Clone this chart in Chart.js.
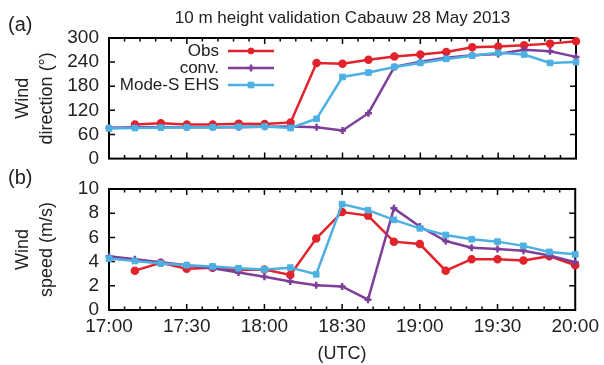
<!DOCTYPE html>
<html lang="en">
<head>
    <meta charset="UTF-8">
    <title>10 m height validation Cabauw 28 May 2013</title>
    <script src="https://cdn.jsdelivr.net/npm/chart.js"></script>
    <style>
        html, body { margin: 0; padding: 0; background: #fff; }
        #wrap { position: relative; width: 604px; height: 365px; }
        #wrap canvas { position: absolute; left: 0; }
        #dirChart { top: 0; }
        #spdChart { top: 165px; }
    </style>
</head>
<body>
<div id="wrap">
    <canvas id="dirChart" width="604" height="180"></canvas>
    <canvas id="spdChart" width="604" height="200"></canvas>
</div>
<script>
    // minutes after 17:00 UTC, one sample every 10 minutes
    const minutes = [0, 10, 20, 30, 40, 50, 60, 70, 80, 90, 100, 110, 120, 130, 140, 150, 160, 170, 180];

    // wind direction (deg)
    const obsDir = [null, 85, 88, 85, 85, 87, 86, 90, 238, 236, 246, 254, 259, 265, 277, 279, 282, 286, 292];
    const convDir = [77, 78, 78, 78, 78, 78, 79, 80, 78, 70, 113, 228, 241, 251, 257, 260, 271, 267, 253];
    const modeSDir = [75, 76, 77, 78, 78, 79, 80, 76, 99, 203, 214, 228, 238, 248, 256, 263, 259, 238, 240];

    // wind speed (m/s)
    const obsSpd = [null, 3.25, 3.9, 3.4, 3.5, 3.3, 3.35, 2.9, 5.9, 8.1, 7.8, 5.65, 5.45, 3.25, 4.2, 4.2, 4.1, 4.45, 3.7];
    const convSpd = [4.45, 4.2, 3.95, 3.7, 3.45, 3.1, 2.75, 2.35, 2.05, 1.95, 0.85, 8.4, 6.9, 5.7, 5.15, 5.05, 4.9, 4.5, 3.95];
    const modeSSpd = [4.25, 4.05, 3.85, 3.7, 3.6, 3.45, 3.35, 3.5, 2.95, 8.75, 8.25, 7.45, 6.75, 6.2, 5.85, 5.65, 5.3, 4.8, 4.6];

    const seriesNames = ['Obs', 'conv.', 'Mode-S EHS'];
    const dirTicks = [0, 60, 120, 180, 240, 300];
    const spdTicks = [0, 2, 4, 6, 8, 10];

    const FONT = "'Liberation Sans', Arial, sans-serif";
    const INK = '#222';
    const RED = '#e3232b', PURPLE = '#7e3f98', CYAN = '#4cb0e2';

    function timeLabel(m) {
        const h = 17 + Math.floor(m / 60);
        const mm = m % 60;
        return h + ':' + (mm < 10 ? '0' : '') + mm;
    }

    function toPoints(vals) {
        return minutes.map((m, i) => ({ x: m, y: vals[i] }));
    }

    function makeDatasets(obs, conv, modeS) {
        // Mode-S is drawn on top, Obs underneath
        return [
            { label: seriesNames[0], data: toPoints(obs), borderColor: RED, backgroundColor: RED,
              pointStyle: 'circle', pointRadius: 3, order: 3 },
            { label: seriesNames[1], data: toPoints(conv), borderColor: PURPLE, backgroundColor: PURPLE,
              pointStyle: 'cross', pointRadius: 3.5, pointBorderWidth: 2.5, order: 2 },
            { label: seriesNames[2], data: toPoints(modeS), borderColor: CYAN, backgroundColor: CYAN,
              pointStyle: 'rect', pointRadius: 4, pointBorderWidth: 1, order: 1 }
        ].map(d => Object.assign({ borderWidth: 2.5, tension: 0, clip: false, spanGaps: false }, d));
    }

    // gnuplot style frame with inward ticks on all four sides
    const framePlugin = {
        id: 'frame',
        beforeDatasetsDraw(chart) {
            const { ctx, chartArea: a, scales: { x, y } } = chart;
            ctx.save();
            ctx.strokeStyle = '#000';
            ctx.lineWidth = 1.5;
            ctx.beginPath();
            for (let m = 6; m < 180; m += 6) {
                const px = x.getPixelForValue(m);
                const len = m % 30 === 0 ? 6 : 3.5;
                ctx.moveTo(px, a.bottom); ctx.lineTo(px, a.bottom - len);
                ctx.moveTo(px, a.top); ctx.lineTo(px, a.top + len);
            }
            y.ticks.forEach(t => {
                const py = y.getPixelForValue(t.value);
                if (py <= a.top + 1 || py >= a.bottom - 1) return;
                ctx.moveTo(a.left, py); ctx.lineTo(a.left + 6, py);
                ctx.moveTo(a.right, py); ctx.lineTo(a.right - 6, py);
            });
            ctx.stroke();
            ctx.lineWidth = 2;
            ctx.strokeRect(a.left, a.top, a.right - a.left, a.bottom - a.top);
            ctx.restore();
        }
    };

    // panel letter, figure title and the in-plot key
    const notesPlugin = {
        id: 'notes',
        afterDraw(chart, args, opts) {
            const { ctx, chartArea: a } = chart;
            ctx.save();
            ctx.fillStyle = INK;
            ctx.textBaseline = 'middle';
            if (opts.panel) {
                ctx.font = '20px ' + FONT;
                ctx.textAlign = 'left';
                ctx.fillText(opts.panel, opts.panelX, opts.panelY);
            }
            if (opts.title) {
                ctx.font = '17px ' + FONT;
                ctx.textAlign = 'center';
                ctx.fillText(opts.title, (a.left + a.right) / 2, opts.titleY);
            }
            if (opts.key) {
                ctx.font = '17px ' + FONT;
                ctx.textAlign = 'right';
                chart.data.datasets.forEach((ds, i) => {
                    const yy = opts.keyY + i * 17;
                    ctx.fillStyle = INK;
                    ctx.fillText(ds.label, opts.keyX, yy);
                    ctx.strokeStyle = ds.borderColor;
                    ctx.lineWidth = ds.borderWidth;
                    ctx.beginPath();
                    ctx.moveTo(opts.keyX + 9, yy);
                    ctx.lineTo(opts.keyX + 55, yy);
                    ctx.stroke();
                    ctx.fillStyle = ds.backgroundColor;
                    ctx.lineWidth = ds.pointBorderWidth || 1;
                    Chart.helpers.drawPoint(ctx, {
                        pointStyle: ds.pointStyle, radius: ds.pointRadius,
                        rotation: 0, borderWidth: ds.pointBorderWidth || 1
                    }, opts.keyX + 32, yy);
                });
            }
            ctx.restore();
        }
    };

    function makeChart(id, datasets, cfg) {
        return new Chart(document.getElementById(id), {
            type: 'line',
            data: { datasets },
            plugins: [framePlugin, notesPlugin],
            options: {
                responsive: false,
                animation: false,
                devicePixelRatio: 1,
                events: [],
                layout: { padding: { top: cfg.padTop, right: 28, left: 0, bottom: 0 } },
                plugins: {
                    legend: { display: false },
                    tooltip: { enabled: false },
                    notes: cfg.notes
                },
                scales: {
                    x: {
                        type: 'linear',
                        min: 0,
                        max: 180,
                        grid: { display: false, drawTicks: false },
                        border: { display: false },
                        ticks: {
                            display: cfg.showTime,
                            stepSize: 30,
                            padding: 5,
                            maxRotation: 0,
                            autoSkip: false,
                            color: INK,
                            font: { family: FONT, size: 19 },
                            callback: v => timeLabel(v)
                        },
                        title: {
                            display: cfg.showTime,
                            text: '(UTC)',
                            color: INK,
                            font: { family: FONT, size: 18 },
                            padding: { top: 7, bottom: 0 }
                        },
                        afterFit: s => { s.height = cfg.xHeight; }
                    },
                    y: {
                        min: cfg.yTicks[0],
                        max: cfg.yTicks[cfg.yTicks.length - 1],
                        grid: { display: false, drawTicks: false },
                        border: { display: false },
                        afterBuildTicks: s => { s.ticks = cfg.yTicks.map(v => ({ value: v })); },
                        ticks: {
                            autoSkip: false,
                            padding: 10,
                            color: INK,
                            font: { family: FONT, size: 19 }
                        },
                        title: {
                            display: true,
                            text: cfg.yTitle,
                            color: INK,
                            font: { family: FONT, size: 18, lineHeight: 1.35 },
                            padding: { top: 11, bottom: 0 }
                        },
                        afterFit: s => { s.width = 109; }
                    }
                }
            }
        });
    }

    makeChart('dirChart', makeDatasets(obsDir, convDir, modeSDir), {
        padTop: 38,
        xHeight: 20,
        showTime: false,
        yTicks: dirTicks,
        yTitle: ['Wind', 'direction (°)'],
        notes: { panel: '(a)', panelX: 8, panelY: 25, title: '10 m height validation Cabauw 28 May 2013',
                 titleY: 18, key: true, keyX: 219, keyY: 51 }
    });

    makeChart('spdChart', makeDatasets(obsSpd, convSpd, modeSSpd), {
        padTop: 24,
        xHeight: 55,
        showTime: true,
        yTicks: spdTicks,
        yTitle: ['Wind', 'speed (m/s)'],
        notes: { panel: '(b)', panelX: 8, panelY: 13 }
    });
</script>
</body>
</html>
